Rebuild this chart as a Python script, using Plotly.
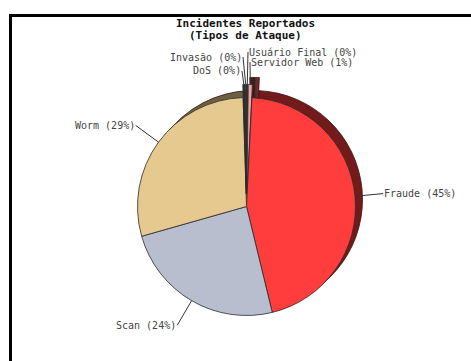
import math
import plotly.graph_objects as go

# Attack types and reported incident counts (clockwise from 12 o'clock)
labels = ["Usuário Final", "Servidor Web", "Fraude", "Scan", "Worm", "DoS", "Invasão"]
counts = [2, 6, 454, 244, 289, 3, 2]

colors = ["#3a3a3a", "#f0a4a4", "#ff3d3d", "#b8bece", "#e6c98e", "#2e2e2e", "#4a4a4a"]
shadow_colors = ["#262626", "#6e2a2a", "#731b1b", "#6d7282", "#6b6141", "#222222", "#2c2c2c"]
pulls = [0.12, 0.12, 0, 0, 0, 0.12, 0.12]

title_lines = ["Incidentes Reportados", "(Tipos de Ataque)"]

# Page geometry (pixels)
W, H = 471, 361
CX, CY, R = 246.5, 206.5, 109
SHADOW_DX, SHADOW_DY = 7, -7
HALF = R * (1 + max(pulls))

# Label placement for the thin slices clustered at the top
small_label_pos = {
    "Usuário Final": (248, 52, "left"),
    "Servidor Web": (250, 62, "left"),
    "Invasão": (243, 57, "right"),
    "DoS": (242, 71, "right"),
}

MONO = "DejaVu Sans Mono"


def px_x(x):
    return x / W


def px_y(y):
    return 1 - y / H


def domain(cx, cy):
    return dict(x=[px_x(cx - HALF), px_x(cx + HALF)],
                y=[px_y(cy + HALF), px_y(cy - HALF)])


def pie(cols, cx, cy, line_color):
    return go.Pie(
        labels=labels, values=counts, sort=False, direction="clockwise",
        rotation=0, pull=pulls, textinfo="none", hoverinfo="skip",
        showlegend=False, domain=domain(cx, cy),
        marker=dict(colors=cols, line=dict(color=line_color, width=0.8)),
    )


fig = go.Figure()
fig.add_trace(pie(shadow_colors, CX + SHADOW_DX, CY + SHADOW_DY, "#3a1010"))
fig.add_trace(pie(colors, CX, CY, "#2b2b2b"))

total = sum(counts)
annotations = []
cum = 0
for name, v, p in zip(labels, counts, pulls):
    mid = math.radians((cum + v / 2) / total * 360)
    cum += v
    dx, dy = math.sin(mid), -math.cos(mid)
    rr = R * (1 + p)
    hx, hy = CX + rr * dx, CY + rr * dy
    text = f"{name} ({round(100 * v / total)}%)"
    if name in small_label_pos:
        tx, ty, anchor = small_label_pos[name]
    else:
        tx, ty = CX + 1.26 * R * dx, CY + 1.26 * R * dy
        anchor = "left" if dx > 0 else "right"
    annotations.append(dict(
        x=px_x(hx), y=px_y(hy), xref="paper", yref="paper",
        ax=tx - hx, ay=ty - hy, axref="pixel", ayref="pixel",
        text=text, showarrow=True, arrowhead=0, arrowwidth=1,
        arrowcolor="#333333", standoff=0, startstandoff=0,
        xanchor=anchor, yanchor="middle", borderpad=0,
        font=dict(family=MONO, size=10, color="#444444"),
    ))

for i, line in enumerate(title_lines):
    annotations.append(dict(
        x=px_x(245), y=px_y(23.5 + 12 * i), xref="paper", yref="paper",
        text=f"<b>{line}</b>", showarrow=False, xanchor="center", yanchor="middle",
        borderpad=0,
        font=dict(family=MONO, size=11, color="#111111"),
    ))

fig.update_layout(
    width=W, height=H,
    margin=dict(l=0, r=0, t=0, b=0),
    paper_bgcolor="white", plot_bgcolor="white",
    annotations=annotations,
    shapes=[dict(type="rect", xref="paper", yref="paper",
                 x0=px_x(10.5), x1=px_x(W + 20), y0=px_y(H + 20), y1=px_y(15.5),
                 line=dict(color="black", width=3), fillcolor="rgba(0,0,0,0)")],
)

fig.write_html("out.html")
